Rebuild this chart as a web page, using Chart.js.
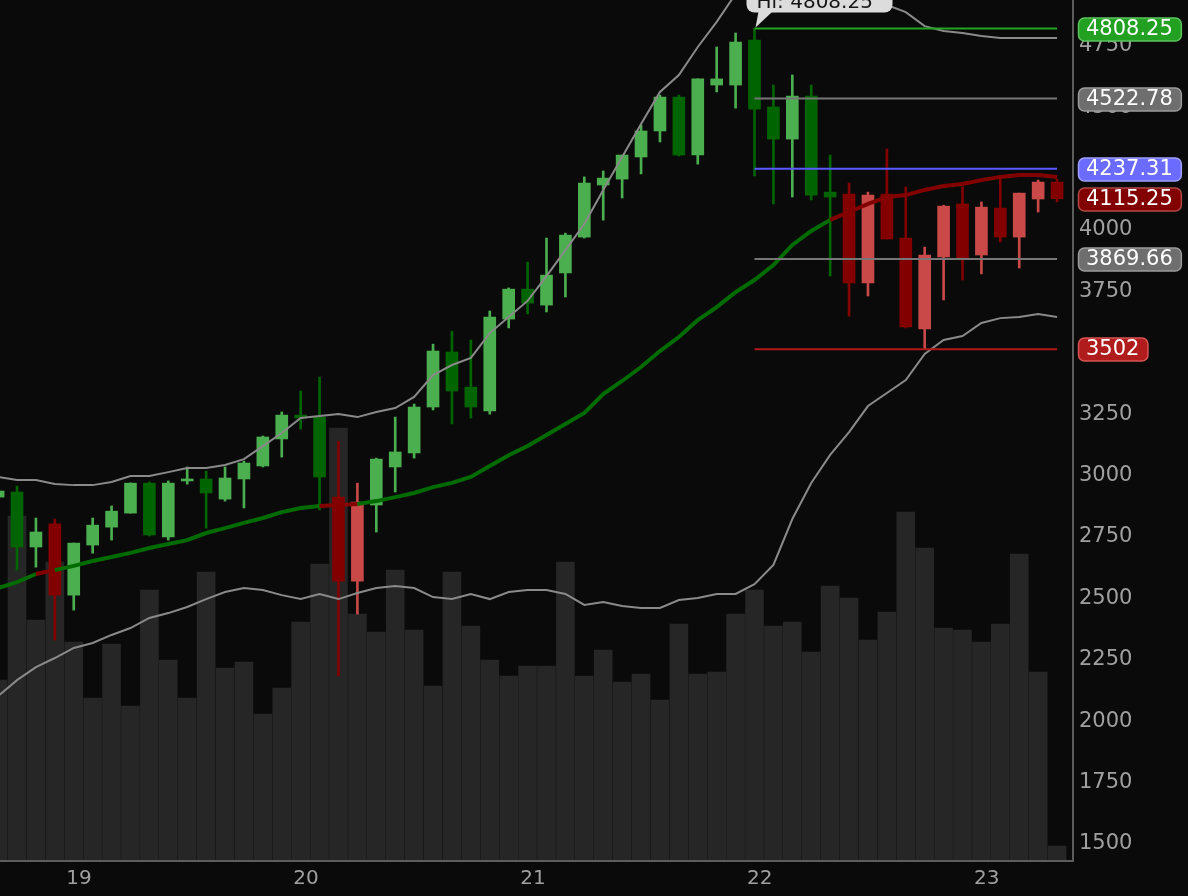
<!DOCTYPE html>
<html><head><meta charset="utf-8">
<script src="https://cdn.jsdelivr.net/npm/chart.js@4.4.1/dist/chart.umd.min.js"></script>
<style>html,body{margin:0;padding:0;background:#0a0a0a;overflow:hidden}canvas{display:block}</style>
</head><body><canvas id="c" width="1188" height="896"></canvas>
<script>
// ---- data ----
const dayLabels = ['19', '20', '21', '22', '23'];
const dayTickIndex = [4.28, 16.28, 28.28, 40.28, 52.28];   // candle-index position of each day label
const yTickValues = [1500, 1750, 2000, 2250, 2500, 2750, 3000, 3250, 3500, 3750, 4000, 4250, 4500, 4750];

const open  = [2900,2921,2697,2791,2501,2705,2778,2835,2957,2738, 2966,2974,2892,2974,3027,3137,3234,3226,2900,2558,
               2868,3023,3080,3267,3491,3348,3251,3625,3747,3682, 3813,3959,4171,4195,4285,4391,4529,4293,4578,4578,
               4761,4489,4358,4533,4142,4134,3772,4134,3955,3585, 3878,4094,3886,4077,3959,4114,4183];
const high  = [2937,2945,2815,2811,2713,2815,2864,2958,2962,2966, 3023,3006,3023,3047,3149,3247,3332,3389,3128,2957,
               3059,3226,3279,3523,3576,3540,3658,3752,3857,3955, 3975,4204,4228,4293,4415,4537,4537,4603,4733,4790,
               4808.25,4578,4619,4578,4293,4179,4142,4318,4163,3918, 4089,4163,4102,4195,4138,4191,4195];
const low   = [2888,2603,2615,2318,2440,2672,2725,2835,2742,2725, 2953,2774,2884,2856,3023,3063,3177,2848,2172,2424,
               2758,2921,3059,3255,3198,3222,3238,3589,3646,3654, 3715,3955,4028,4118,4216,4346,4289,4256,4550,4484,
               4208,4094,4122,4110,3800,3637,3719,3951,3589,3502, 3703,3784,3809,3939,3833,4061,4102];
const close = [2925,2697,2758,2501,2713,2786,2843,2957,2746,2957, 2974,2917,2978,3039,3145,3234,3222,2982,2558,2880,
               3055,3084,3267,3495,3332,3267,3633,3747,3690,3804, 3967,4179,4199,4293,4391,4529,4293,4603,4603,4753,
               4480,4358,4533,4130,4122,3772,4130,3951,3593,3886, 4085,3870,4081,3959,4138,4183,4115.25];
const volume = [1800,3440,2400,2980,2180,1620,2160,1540,2700,2000, 1620,2880,1920,1980,1460,1720,2380,2960,4320,2460,
                2280,2900,2300,1740,2880,2340,2000,1840,1940,1940, 2980,1840,2100,1780,1860,1600,2360,1860,1880,2460,
                2700,2340,2380,2080,2740,2620,2200,2480,3480,3120, 2320,2300,2180,2360,3060,1880,140];
const sma = [2530,2554,2587,2603,2620,2640,2656,2673,2693,2709, 2725,2754,2774,2795,2815,2839,2856,2864,2868,2872,
             2884,2900,2917,2941,2958,2982,3027,3071,3108,3153, 3198,3243,3320,3373,3430,3495,3552,3621,3674,3735,
             3784,3845,3927,3984,4029,4061,4094,4122,4130,4151, 4167,4175,4191,4204,4212,4212,4204];
const bbUpper = [2982,2970,2970,2954,2949,2949,2962,2986,2986,3002, 3019,3019,3031,3055,3108,3161,3222,3230,3239,3226,
                 3247,3263,3308,3397,3438,3467,3568,3634,3699,3800, 3906,4012,4151,4285,4419,4550,4619,4733,4835,4949,
                 5022,5067,5042,5010,4985,4957,4916,4904,4875,4818, 4798,4790,4778,4770,4770,4770,4770];
const bbLower = [2090,2155,2208,2245,2286,2306,2339,2367,2408,2428, 2453,2485,2514,2530,2522,2501,2485,2506,2485,2510,
                 2530,2538,2530,2493,2485,2506,2485,2514,2522,2522, 2506,2461,2473,2457,2449,2449,2481,2489,2506,2506,
                 2546,2624,2811,2958,3072,3165,3271,3324,3377,3483, 3540,3556,3609,3629,3634,3646,3634];
// trend state per candle: G = green regime, R = red regime
const trend = 'GGG R GGGGGGGGGGGGGG RR GGGGGGGGGGGGGGGGGGGGGGGGG RRRRRRRRRRRR'.replace(/ /g, '').split('');

const levelValues = [4808.25, 4522.78, 4237.31, 3869.66, 3502];
const levelNames  = ['high', 'mid', 'pivot', 'mid', 'low'];
const levelStartIndex = 40;
const levelEndIndex = 56;
const lastPrice = 4115.25;
const highText = 'Hi: 4808.25';

// ---- styles ----
const C = {
  bg: '#0a0a0a', upG: '#4bae4f', dnG: '#006400', upR: '#c94848', dnR: '#820000',
  smaG: '#006b00', smaR: '#820000', band: '#8a8a8a', vol: '#262626', axis: '#5c5c5c', tick: '#a0a0a0'
};
const levelStyle = {
  high:  {line: '#22a322', fill: '#22a022', edge: '#5cc35c'},
  mid:   {line: '#767676', fill: '#6e6e6e', edge: '#9c9c9c'},
  pivot: {line: '#5a5aff', fill: '#6b6bff', edge: '#a0a0ff'},
  low:   {line: '#b01818', fill: '#b01c1c', edge: '#d65454'}
};
const FONT = 'DejaVu Sans';

const idx = open.map((_, i) => i);
const candleColor = i => trend[i] === 'G'
  ? (close[i] >= open[i] ? C.upG : C.dnG)
  : (close[i] >= open[i] ? C.upR : C.dnR);
const colors = idx.map(candleColor);

const datasets = [
  {type: 'bar', label: 'vol', yAxisID: 'yv', order: 10, grouped: false, barThickness: 18,
   data: idx.map(i => ({x: i, y: volume[i]})), backgroundColor: C.vol},
  {type: 'bar', label: 'wick', yAxisID: 'y', order: 8, grouped: false, barThickness: 2,
   data: idx.map(i => ({x: i, y: [low[i], high[i]]})), backgroundColor: colors},
  {type: 'bar', label: 'body', yAxisID: 'y', order: 7, grouped: false, barThickness: 12, minBarLength: 2,
   data: idx.map(i => ({x: i, y: [open[i], close[i]]})), backgroundColor: colors},
  {type: 'line', label: 'upper', yAxisID: 'y', order: 5, borderColor: C.band, borderWidth: 2, pointRadius: 0,
   data: idx.map(i => ({x: i, y: bbUpper[i]}))},
  {type: 'line', label: 'lower', yAxisID: 'y', order: 5, borderColor: C.band, borderWidth: 2, pointRadius: 0,
   data: idx.map(i => ({x: i, y: bbLower[i]}))},
  {type: 'line', label: 'sma', yAxisID: 'y', order: 4, borderColor: C.smaG, borderWidth: 4, pointRadius: 0,
   data: idx.map(i => ({x: i, y: sma[i]})),
   segment: {borderColor: ctx => trend[ctx.p1DataIndex] === 'R' ? C.smaR : C.smaG}}
];
levelValues.forEach((v, k) => {
  datasets.push({type: 'line', label: 'lvl' + k, yAxisID: 'y', order: 3,
    borderColor: levelStyle[levelNames[k]].line, borderWidth: 2, pointRadius: 0,
    data: [{x: levelStartIndex, y: v}, {x: levelEndIndex, y: v}]});
});

const overlay = {
  id: 'overlay',
  afterDraw(chart) {
    const {ctx, chartArea: a, scales} = chart;
    const ys = scales.y, xs = scales.x;
    ctx.save();
    // axis lines
    ctx.strokeStyle = C.axis; ctx.lineWidth = 2;
    ctx.beginPath(); ctx.moveTo(a.left, a.bottom + 1); ctx.lineTo(a.right + 1, a.bottom + 1);
    ctx.moveTo(a.right + 1, a.top); ctx.lineTo(a.right + 1, a.bottom + 2); ctx.stroke();
    // badges
    ctx.font = '21px ' + FONT;
    ctx.textBaseline = 'middle';
    const badge = (val, text, fill, edge) => {
      const y = Math.round(ys.getPixelForValue(val));
      const w = ctx.measureText(text).width + 16, h = 23, x = a.right + 6;
      ctx.beginPath(); ctx.roundRect(x + 0.5, y - h / 2 + 0.5, w, h, 6);
      ctx.fillStyle = fill; ctx.fill(); ctx.strokeStyle = edge; ctx.lineWidth = 1.5; ctx.stroke();
      ctx.fillStyle = '#ffffff'; ctx.fillText(text, x + 8, y + 1);
    };
    levelValues.forEach((v, k) => {
      const s = levelStyle[levelNames[k]];
      badge(v, String(v), s.fill, s.edge);
    });
    const li = close.length - 1;
    badge(lastPrice, lastPrice.toFixed(2), candleColor(li), '#b04848');
    // high callout
    const hx = xs.getPixelForValue(levelStartIndex), hy = ys.getPixelForValue(high[levelStartIndex]);
    const bx = hx - 8, bw = 146, bBottom = hy - 16;
    ctx.beginPath();
    ctx.roundRect(bx, bBottom - 40, bw, 40, 8);
    ctx.fillStyle = '#dcdcdc'; ctx.fill();
    ctx.beginPath(); ctx.moveTo(hx + 4, bBottom - 1); ctx.lineTo(hx + 18, bBottom - 1); ctx.lineTo(hx + 1, hy - 1); ctx.closePath();
    ctx.fill();
    ctx.font = '20px ' + FONT; ctx.textBaseline = 'alphabetic';
    ctx.fillStyle = '#151515'; ctx.fillText(highText, hx + 2, bBottom - 5);
    ctx.restore();
  }
};

new Chart(document.getElementById('c'), {
  type: 'bar',
  data: {datasets},
  options: {
    responsive: false, animation: false, devicePixelRatio: 1,
    layout: {padding: 0},
    plugins: {legend: {display: false}, tooltip: {enabled: false}},
    scales: {
      x: {
        type: 'linear', position: 'bottom', min: 0.1, max: 56.79, offset: false,
        grid: {display: false, drawTicks: false, offset: false}, border: {display: false},
        ticks: {color: C.tick, font: {family: FONT, size: 20}, padding: 7, autoSkip: false, maxRotation: 0,
                callback: v => { const k = dayTickIndex.indexOf(v); return k >= 0 ? dayLabels[k] : ''; }},
        afterBuildTicks: s => { s.ticks = dayTickIndex.map(v => ({value: v})); },
        afterFit: s => { s.height = 36; s.paddingLeft = 0; s.paddingRight = 0; }
      },
      y: {
        type: 'linear', position: 'right', min: 1422.6, max: 4924.3,
        grid: {display: false, drawTicks: false}, border: {display: false},
        ticks: {color: C.tick, font: {family: FONT, size: 21}, padding: 7, labelOffset: 3,
                callback: v => String(v)},
        afterBuildTicks: s => { s.ticks = yTickValues.map(v => ({value: v})); },
        afterFit: s => { s.width = 116; s.paddingTop = 0; s.paddingBottom = 0; }
      },
      yv: {type: 'linear', display: false, min: 0, max: 8600}
    }
  },
  plugins: [overlay]
});
</script>
</body></html>
